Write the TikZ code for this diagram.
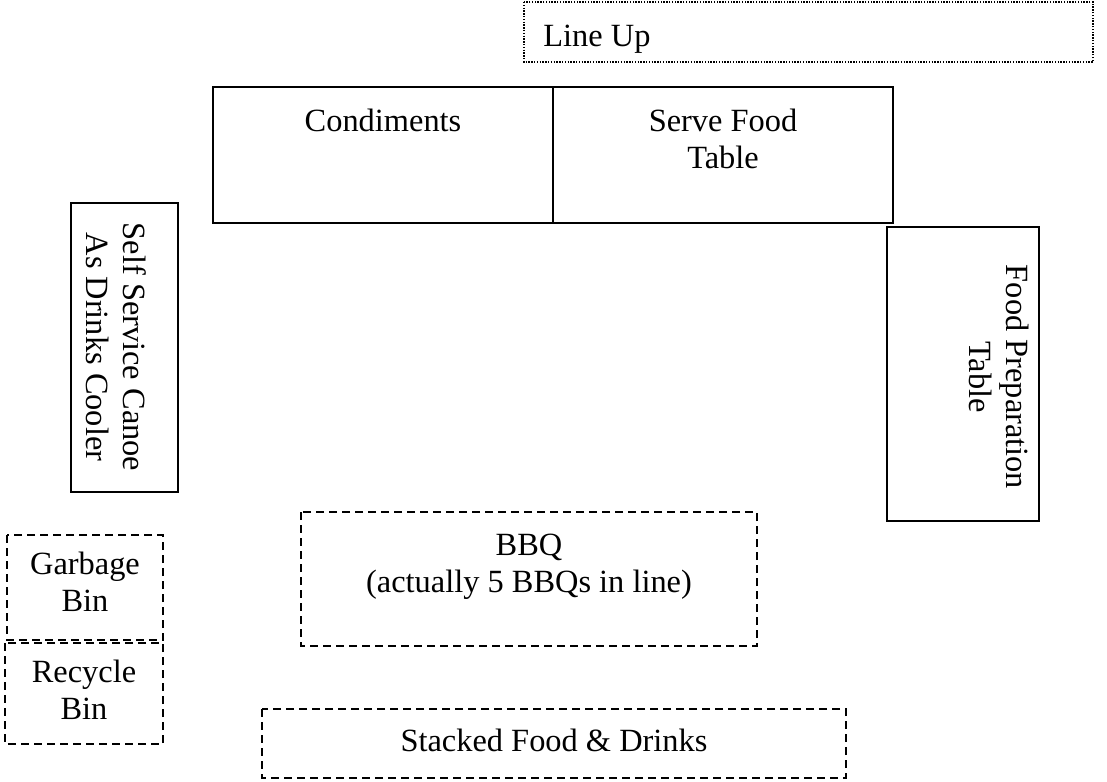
\documentclass[tikz,border=0pt]{standalone}
\usepackage{fontspec}
\setmainfont{Liberation Serif}

\begin{document}
\begin{tikzpicture}[x=0.5pt,y=-0.5pt,
	solidbox/.style={draw, line width=0.8pt},
	dashbox/.style={draw, line width=0.8pt, dash pattern=on 4pt off 2.5pt},
	dotbox/.style={draw, line width=0.7pt, dash pattern=on 0.7pt off 0.7pt},
	lbl/.style={font=\fontsize{16.2pt}{18.5pt}\selectfont, align=center, inner sep=0pt, anchor=north}]

	\useasboundingbox (0,0) rectangle (1107,781);

	% corners
	\coordinate (LU1) at (524,2);
	\coordinate (LU2) at (1093,62);

	\coordinate (C1) at (213,87);
	\coordinate (C2) at (553,223);
	\coordinate (S2) at (893,223);

	\coordinate (D1) at (71,203);
	\coordinate (D2) at (178,492);

	\coordinate (P1) at (887,227);
	\coordinate (P2) at (1039,521);

	\coordinate (Q1) at (301,512);
	\coordinate (Q2) at (757,646);

	\coordinate (G1) at (7,535);
	\coordinate (G2) at (163,640);
	\coordinate (R1) at (5,643);
	\coordinate (R2) at (163,744);

	\coordinate (F1) at (262,709);
	\coordinate (F2) at (846,778);

	% boxes
	\draw[dotbox] (LU1) rectangle (LU2);
	\draw[solidbox] (C1) rectangle (C2);
	\draw[solidbox] (C1 -| C2) rectangle (S2);
	\draw[solidbox] (D1) rectangle (D2);
	\draw[solidbox] (P1) rectangle (P2);
	\draw[dashbox] (Q1) rectangle (Q2);
	\draw[dashbox] (G1) rectangle (G2);
	\draw[dashbox] (R1) rectangle (R2);
	\draw[dashbox] (F1) rectangle (F2);

	% labels
	\node[lbl, anchor=base west] (lineup) at (543,47) {Line Up};
	\node[lbl] (condiments) at (383,109) {Condiments};
	\node[lbl] (serve) at (723,109) {Serve Food\\Table};
	\node[lbl, rotate=-90] (cooler) at (147,347) {Self Service Canoe\\As Drinks Cooler};
	\node[lbl, rotate=-90] (prep) at (1029,377) {Food Preparation\\Table};
	\node[lbl] (bbq) at (529,534) {BBQ\\(actually 5 BBQs in line)};
	\node[lbl] (garbage) at (85,552) {Garbage\\Bin};
	\node[lbl] (recycle) at (84,660) {Recycle\\Bin};
	\node[lbl] (stacked) at (554,729) {Stacked Food \& Drinks};

\end{tikzpicture}
\end{document}
